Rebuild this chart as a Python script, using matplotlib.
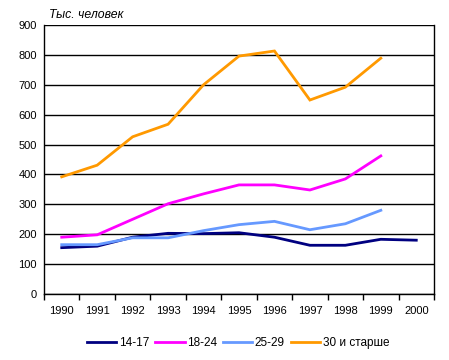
import matplotlib
matplotlib.use("Agg")
import matplotlib.pyplot as plt
import numpy as np

years = ["1990", "1991", "1992", "1993", "1994", "1995", "1996", "1997", "1998", "1999", "2000"]
s_14_17 = [155, 160, 190, 203, 202, 205, 190, 163, 163, 183, 180]
s_18_24 = [190, 198, 250, 302, 335, 365, 365, 348, 385, 462]
s_25_29 = [165, 165, 188, 188, 212, 232, 243, 215, 235, 280]
s_30 = [392, 431, 526, 568, 700, 796, 813, 649, 692, 789]
labels = ["14-17", "18-24", "25-29", "30 и старше"]
colors = ["#000080", "#FF00FF", "#6699FF", "#FF9900"]

plt.rcParams['font.family'] = ['Liberation Sans', 'DejaVu Sans']
fig = plt.figure(figsize=(4.49, 3.6), dpi=100)
ax = fig.add_axes([44/449, (360-294)/360, 390/449, 269/360])

x = np.arange(len(years))
for data, lab, c in zip([s_14_17, s_18_24, s_25_29, s_30], labels, colors):
    ax.plot(x[:len(data)], data, color=c, lw=2, label=lab, solid_joinstyle='miter')

ax.set_xlim(-0.5, len(years) - 0.5)
ax.set_ylim(0, 900)
ax.set_yticks(range(0, 901, 100))
ax.yaxis.grid(True, color='black', lw=1)
ax.set_axisbelow(True)
ax.set_xticks(x)
ax.set_xticklabels(years, fontsize=8)
ax.set_xticks(np.arange(-0.5, len(years), 1), minor=True)
ax.tick_params(axis='x', which='major', length=0, pad=9)
ax.tick_params(axis='x', which='minor', length=4, width=1, color='black', direction='out')
ax.tick_params(axis='y', labelsize=8, length=0, pad=5)
for s in ['left', 'right', 'bottom', 'top']:
    ax.spines[s].set_color('black')
    ax.spines[s].set_linewidth(1)
ax.spines['top'].set_visible(False)

fig.text(49/449, 1 - 15/360, "Тыс. человек", fontsize=8.8, style='italic', va='center', ha='left')

fig.legend(loc='center', bbox_to_anchor=(238/449, 1 - 343/360), ncol=4, frameon=False,
           fontsize=8.5, handlelength=2.5, handletextpad=0.2, columnspacing=0.5)

fig.savefig("out.png", dpi=100)
